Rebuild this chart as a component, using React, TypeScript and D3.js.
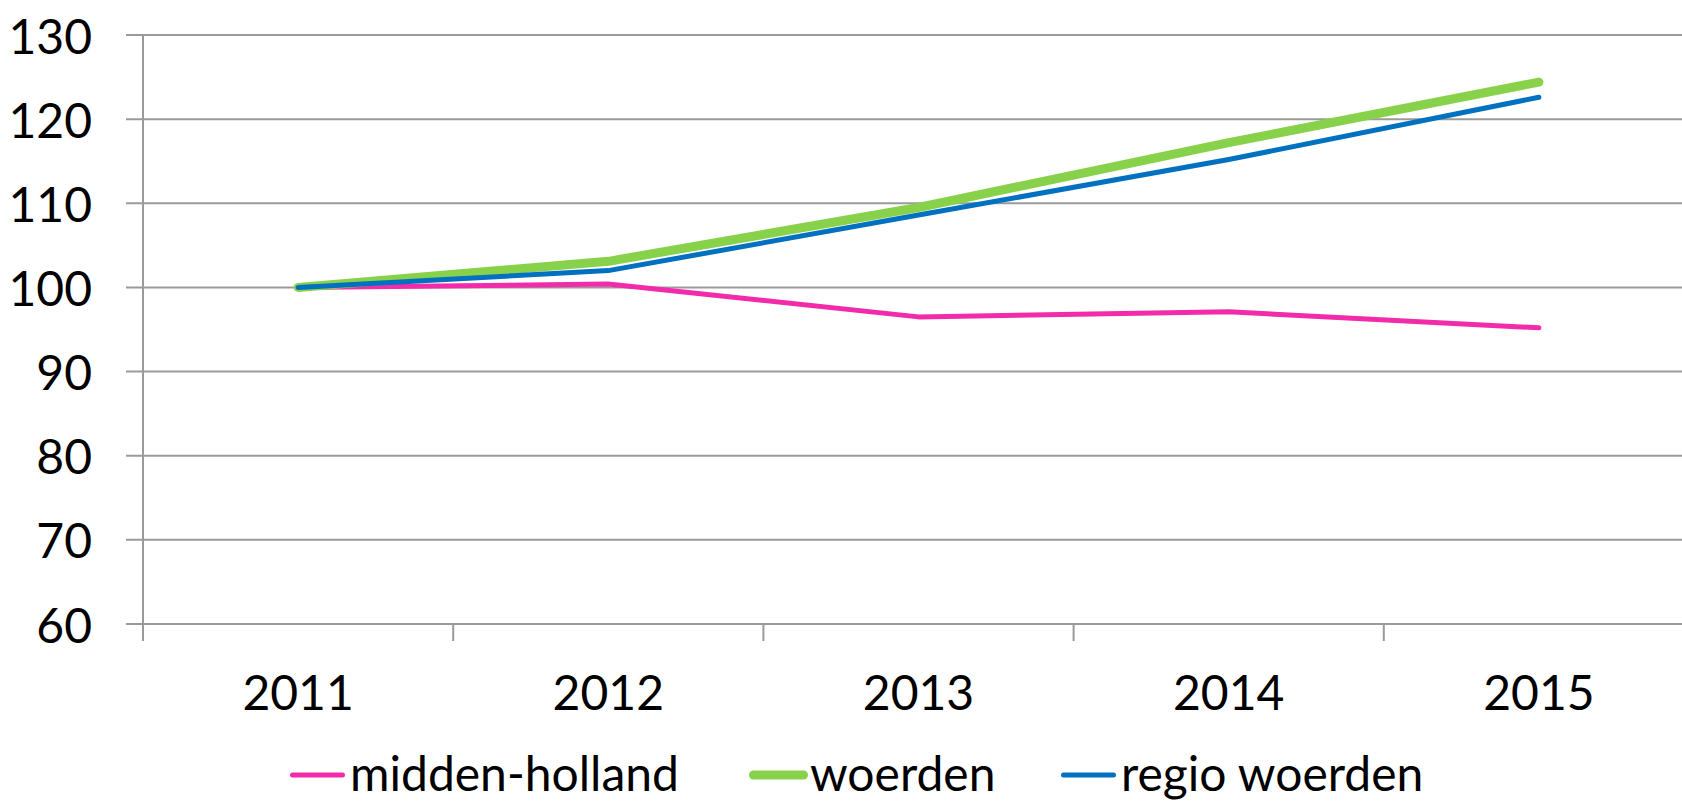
import { useEffect, useRef } from 'react';
import * as d3 from 'd3';

const years = ['2011', '2012', '2013', '2014', '2015'];
const middenHolland = [100, 100.4, 96.5, 97.1, 95.2];
const woerden = [100, 103.1, 109.5, 117.2, 124.4];
const regioWoerden = [100, 102.0, 108.6, 115.2, 122.6];
const yTicks = [60, 70, 80, 90, 100, 110, 120, 130];

const series = [
  { name: 'midden-holland', values: middenHolland, color: '#F22BAA', width: 5 },
  { name: 'woerden', values: woerden, color: '#88D24B', width: 9 },
  { name: 'regio woerden', values: regioWoerden, color: '#0070C0', width: 5 },
];

const W = 1682;
const H = 804;
const FONT = 'Lato, "Open Sans", sans-serif';

// legend slot x positions (line start)
const legendX = [290, 749, 1061];

const App = () => {
  const svgRef = useRef<SVGSVGElement>(null);

  useEffect(() => {
    const svg = d3.select(svgRef.current);
    svg.selectAll('*').remove();

    const left = 143;
    const step = 310.2;
    const top = 35;
    const bottom = 624;

    const x = d3.scaleBand().domain(years).range([left, left + step * years.length]);
    const y = d3.scaleLinear().domain([60, 130]).range([bottom, top]);
    const cx = (d: string) => (x(d) || 0) + x.bandwidth() / 2;

    // horizontal gridlines
    svg.append('g')
      .selectAll('line')
      .data(yTicks)
      .join('line')
      .attr('x1', left - 17)
      .attr('x2', left + step * years.length)
      .attr('y1', d => y(d))
      .attr('y2', d => y(d))
      .attr('stroke', '#9a9a9a')
      .attr('stroke-width', 2);

    // y axis line
    svg.append('line')
      .attr('x1', left).attr('x2', left)
      .attr('y1', top).attr('y2', bottom + 17)
      .attr('stroke', '#9a9a9a')
      .attr('stroke-width', 2);

    // x ticks at band edges
    const edges = years.map(d => x(d) || 0).concat([left + step * years.length]);
    svg.append('g')
      .selectAll('line')
      .data(edges)
      .join('line')
      .attr('x1', d => d).attr('x2', d => d)
      .attr('y1', bottom).attr('y2', bottom + 17)
      .attr('stroke', '#9a9a9a')
      .attr('stroke-width', 2);

    // y labels
    svg.append('g')
      .selectAll('text')
      .data(yTicks)
      .join('text')
      .attr('x', 92)
      .attr('y', d => y(d))
      .attr('text-anchor', 'end')
      .attr('dominant-baseline', 'central')
      .style('font-family', FONT)
      .style('font-size', '48px')
      .attr('fill', '#000')
      .text(d => d);

    // x labels
    svg.append('g')
      .selectAll('text')
      .data(years)
      .join('text')
      .attr('x', d => cx(d))
      .attr('y', 710)
      .attr('text-anchor', 'middle')
      .style('font-family', FONT)
      .style('font-size', '48px')
      .attr('fill', '#000')
      .text(d => d);

    const line = d3.line<number>()
      .x((_, i) => cx(years[i]))
      .y(d => y(d));

    svg.append('g')
      .selectAll('path')
      .data(series)
      .join('path')
      .attr('d', d => line(d.values))
      .attr('fill', 'none')
      .attr('stroke', d => d.color)
      .attr('stroke-width', d => d.width)
      .attr('stroke-linecap', 'round')
      .attr('stroke-linejoin', 'round');

    // legend (nudged up a little so descenders stay inside the frame)
    const legend = svg.append('g')
      .selectAll('g')
      .data(series)
      .join('g')
      .attr('transform', (_, i) => `translate(${legendX[i]},775)`);

    legend.append('line')
      .attr('x1', d => d.width / 2)
      .attr('x2', d => 55 - d.width / 2 + (d.width > 5 ? 4 : 0))
      .attr('y1', 0).attr('y2', 0)
      .attr('stroke', d => d.color)
      .attr('stroke-width', d => d.width)
      .attr('stroke-linecap', 'round');

    legend.append('text')
      .attr('x', d => (d.width > 5 ? 61 : 60))
      .attr('y', 16)
      .style('font-family', FONT)
      .style('font-size', '48px')
      .attr('fill', '#000')
      .text(d => d.name);
  }, []);

  return (
    <svg
      ref={svgRef}
      width={W}
      height={H}
      style={{ position: 'absolute', left: 0, top: 0, display: 'block', background: '#fff' }}
    />
  );
};

export default App;
